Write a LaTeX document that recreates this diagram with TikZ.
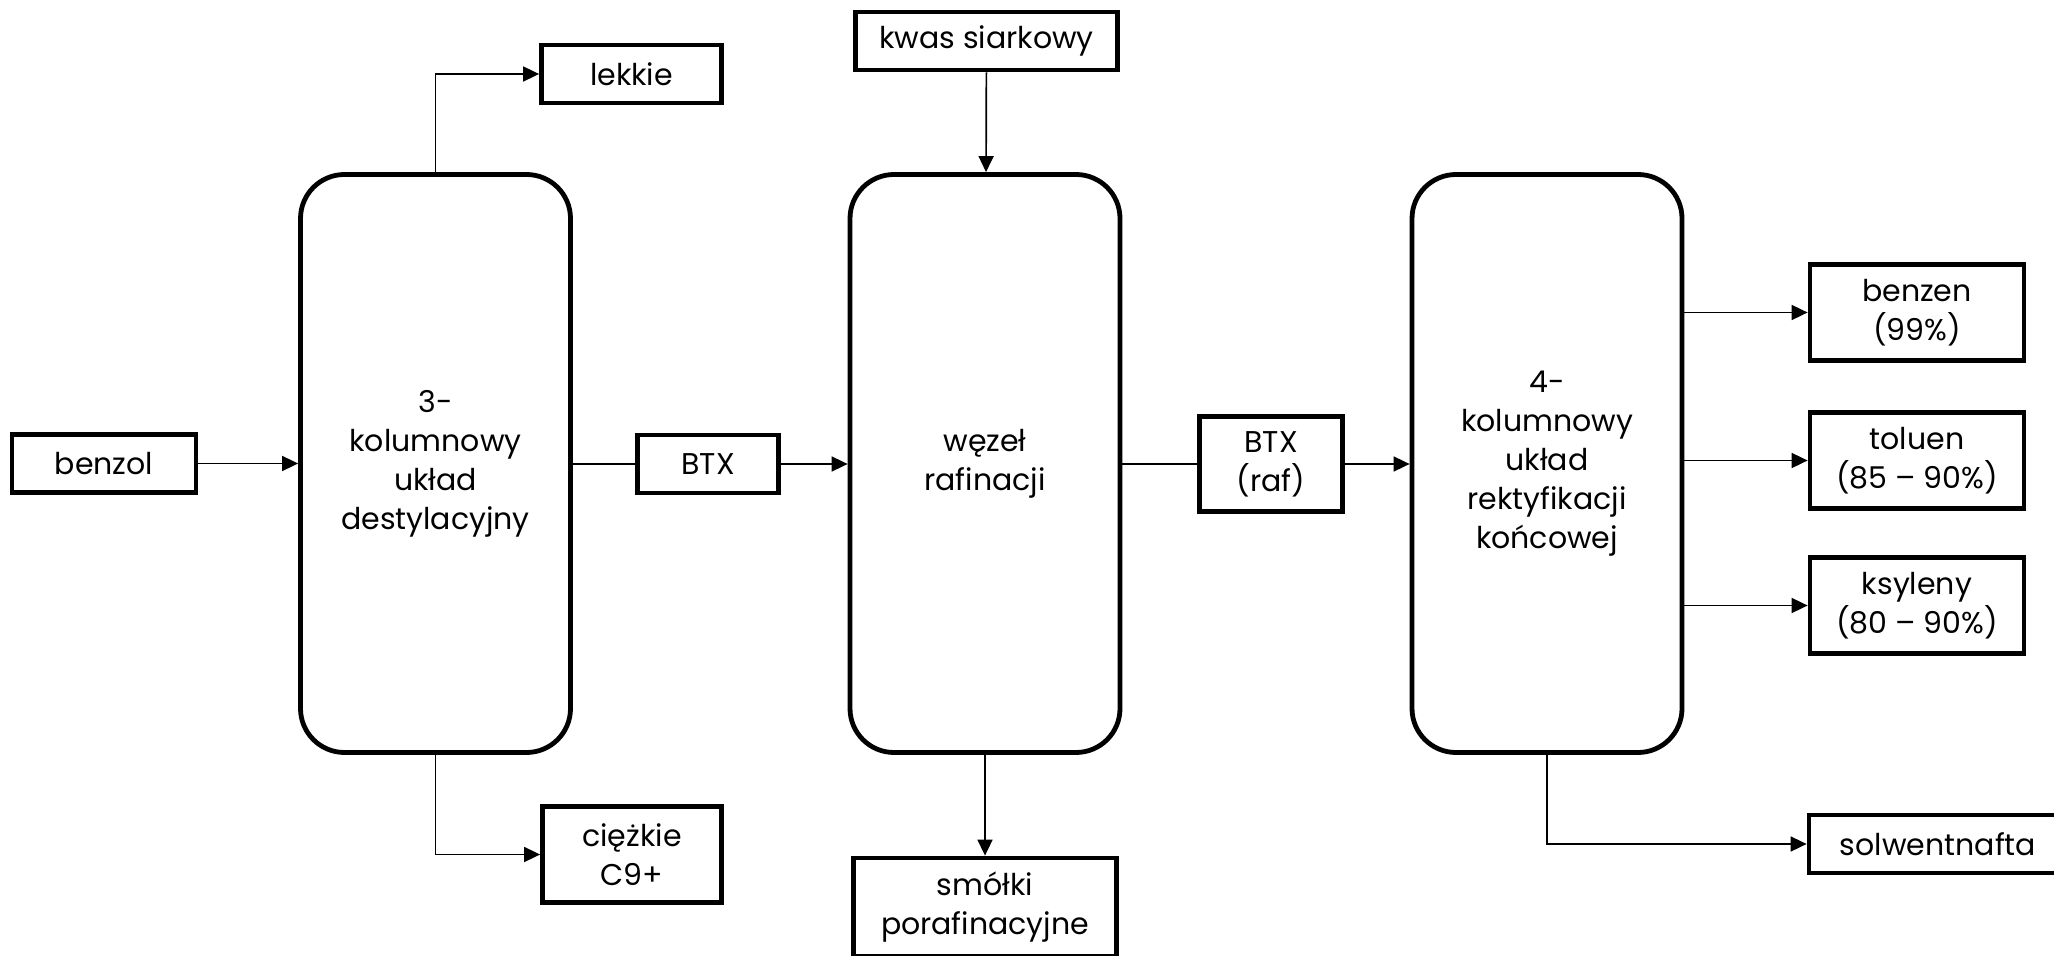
\documentclass[tikz,border=0pt]{standalone}
\usepackage{fontspec}
\setmainfont{Poppins}
\usepackage{tikz}
\usetikzlibrary{arrows.meta,positioning}

\begin{document}
\begin{tikzpicture}[x=0.5pt,y=-0.5pt,
    box/.style={draw,line width=2.4pt,align=center,inner sep=0pt,
      font=\fontsize{15}{19.5}\selectfont},
    unit/.style={box,rounded corners=22pt,minimum width=135pt,minimum height=289pt},
    feed/.style={box,minimum width=92pt,minimum height=29pt},
    prod/.style={box,minimum width=107pt,minimum height=48pt},
    flow/.style={line width=0.85pt},
    arr/.style={flow,-{Triangle[length=8pt,width=7.5pt]}}]
  \useasboundingbox (0,0) rectangle (2054,956);
  \clip (0,0) rectangle (2054,956);

  % main units
  \node[unit] (dest) at (435.5,463.5) {3-\\kolumnowy\\układ\\destylacyjny};
  \node[unit] (raf) at (985,463.5) {węzeł\\rafinacji};
  \node[unit] (rekt) at (1547,463.5) {4-\\kolumnowy\\układ\\rektyfikacji\\końcowej};

  % streams
  \node[feed] (benzol) at (104,463.5) {benzol};
  \node[feed,minimum width=90pt] (lekkie) at (631.5,74) {lekkie};
  \node[box,minimum width=89.5pt,minimum height=48pt] (ciezkie) at (632,854.5) {ciężkie\\C9+};
  \node[feed,minimum width=70.5pt] (btx) at (708,464) {BTX};
  \node[feed,minimum width=131pt] (kwas) at (986.5,41) {kwas siarkowy};
  \node[box,minimum width=131.5pt,minimum height=49pt] (smolki) at (985,907) {smółki\\porafinacyjne};
  \node[box,minimum width=71.5pt,minimum height=47.5pt] (btxraf) at (1271,464) {BTX\\(raf)};
  \node[prod] (benzen) at (1917,312.5) {benzen\\(99\%)};
  \node[prod] (toluen) at (1917,460.5) {toluen\\(85 – 90\%)};
  \node[prod] (ksyleny) at (1917,605.5) {ksyleny\\(80 – 90\%)};
  \node[feed,minimum width=129pt] (solw) at (1938,844) {solwentnafta};

  % connectors
  \draw[arr] (benzol) -- (dest);
  \draw[arr] (dest.north) |- (lekkie.west);
  \draw[arr] (dest.south) |- (ciezkie.west);
  \draw[flow] (dest.east |- btx.west) -- (btx.west);
  \draw[arr] (btx.east) -- (btx.east -| raf.west);
  \draw[arr] (kwas) -- (raf);
  \draw[arr] (raf) -- (smolki);
  \draw[flow] (raf.east |- btxraf.west) -- (btxraf.west);
  \draw[arr] (btxraf.east) -- (btxraf.east -| rekt.west);
  \draw[arr] (benzen.west -| rekt.east) -- (benzen.west);
  \draw[arr] (toluen.west -| rekt.east) -- (toluen.west);
  \draw[arr] (ksyleny.west -| rekt.east) -- (ksyleny.west);
  \draw[arr] (rekt.south) |- (solw.west);
\end{tikzpicture}
\end{document}
